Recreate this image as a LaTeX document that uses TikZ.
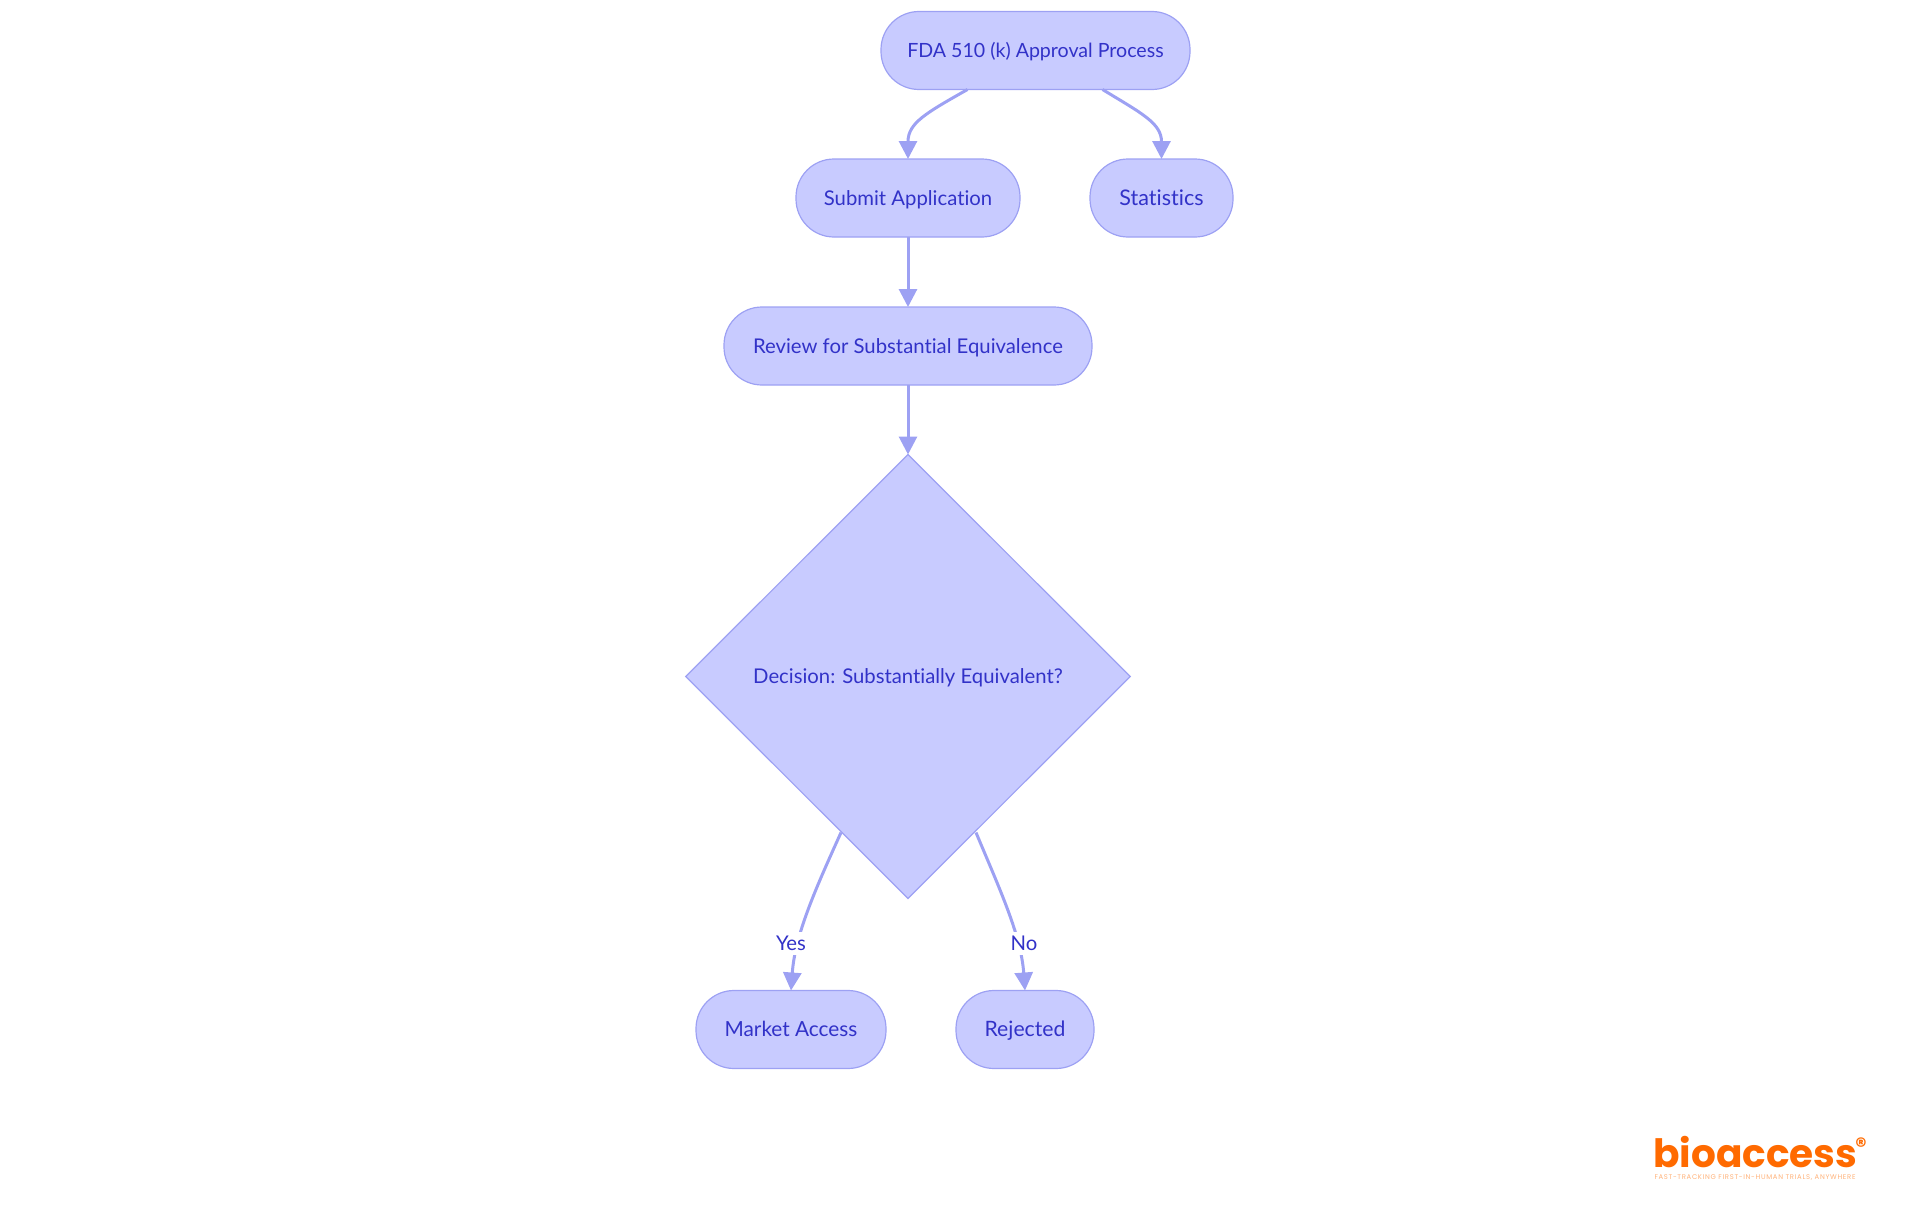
\documentclass[tikz,border=0pt]{standalone}
\usepackage{fontspec}
\setmainfont{Lato}[Ligatures=NoCommon]
\newfontfamily\logofont{Poppins}
\usetikzlibrary{arrows.meta,shapes.geometric}
\definecolor{nodefill}{HTML}{C8CBFF}
\definecolor{nodeline}{HTML}{9DA1F3}
\definecolor{nodetext}{HTML}{3232C8}
\definecolor{logoorange}{HTML}{FF6A00}
\definecolor{logotag}{HTML}{FFB27A}
\newcommand{\fsz}[1]{\fontsize{#1}{24}\selectfont}
\tikzset{
  lbl/.style={text=nodetext,font=\fsz{20.3},text height=17pt,text depth=3pt},
  pill/.style={lbl,draw=nodeline,fill=nodefill,line width=1.2pt,rectangle,rounded corners=38pt,minimum height=78pt,inner sep=0pt,outer sep=0pt},
  decision/.style={lbl,draw=nodeline,fill=nodefill,line width=1.2pt,diamond,minimum width=444.5pt,minimum height=444pt,inner sep=0pt,outer sep=0pt},
  edge/.style={draw=nodeline,line width=3pt,-{Triangle[length=18pt,width=18pt,fill=nodeline]}},
  edgelabel/.style={lbl,fill=white,inner sep=1pt,minimum height=23pt}
}
\begin{document}
\begin{tikzpicture}[x=1pt,y=-1pt]
\useasboundingbox (0,0) rectangle (1920,1215);
\node[pill,minimum width=309pt,font=\fsz{19.6}] (fda) at (1035.5,50.5) {FDA 510 (k) Approval Process};
\node[pill,minimum width=224pt] (sub) at (908,198) {Submit Application};
\node[pill,minimum width=143pt,font=\fsz{21.5}] (sta) at (1161.5,198) {Statistics};
\node[pill,minimum width=368pt] (rev) at (908,346) {Review for Substantial Equivalence};
\node[decision] (dec) at (908,676.5) {Decision: Substantially Equivalent?};
\node[pill,minimum width=190pt,font=\fsz{20.8}] (mar) at (791,1029.5) {Market Access};
\node[pill,minimum width=138pt,font=\fsz{21.2}] (rej) at (1025,1029.5) {Rejected};
\draw[edge] ([xshift=-68pt]fda.south) .. controls (926,113) and (908,123) .. (sub.north);
\draw[edge] ([xshift=67pt]fda.south) .. controls (1141,113) and (1161.5,123) .. (sta.north);
\draw[edge] (sub.south) -- (rev.north);
\draw[edge] (rev.south) -- (dec.north);
\draw[edge] ([xshift=-67pt,yshift=-156pt]dec.center) .. controls (815,890) and (795,935) .. (mar.north);
\draw[edge] ([xshift=68pt,yshift=-156pt]dec.center) .. controls (1000,890) and (1021,935) .. (rej.north);
\node[edgelabel] (yes) at (791,943) {Yes};
\node[edgelabel] (no) at (1024,943) {No};
\node[anchor=base west,inner sep=0pt,text=logoorange] (logo) at (1653,1167) {\resizebox{204pt}{!}{\logofont\bfseries bioaccess}};
\node[anchor=center,inner sep=0pt,text=logoorange] (reg) at (1861,1146) {\logofont\bfseries\fontsize{22}{24}\selectfont ®};
\node[anchor=center,inner sep=0pt,text=logotag] (tag) at (1755,1177.5) {\resizebox{201pt}{!}{\logofont\addfontfeature{LetterSpace=10}FAST-TRACKING FIRST-IN-HUMAN TRIALS, ANYWHERE}};
\end{tikzpicture}
\end{document}
